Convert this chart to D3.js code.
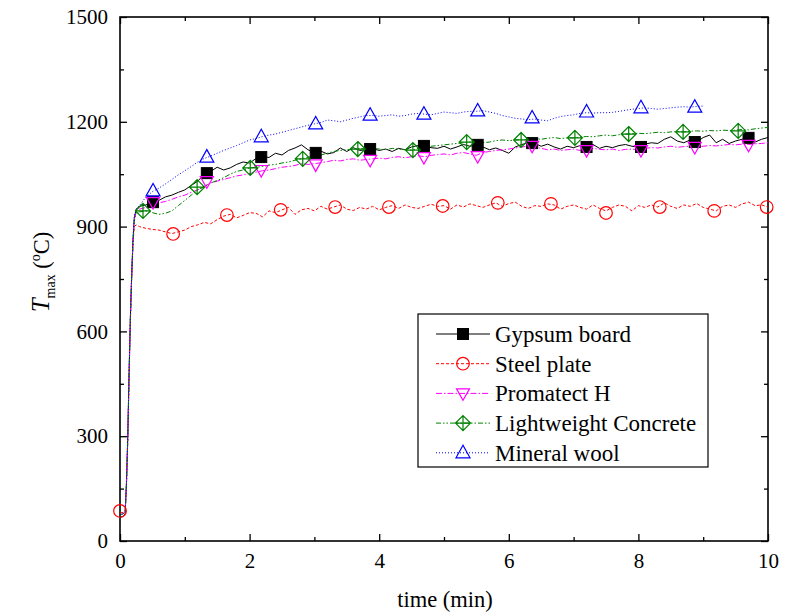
<!DOCTYPE html>
<html>
<head>
<meta charset="utf-8">
<script src="https://cdn.jsdelivr.net/npm/d3@7"></script>
<style>
html,body{margin:0;padding:0;background:#fff;}
svg{display:block;}
text{font-family:"Liberation Serif","Times New Roman",serif;fill:#000;}
</style>
</head>
<body>
<svg id="chart" width="794" height="614"></svg>
<script>
// ---------- DATA ----------
const times = [0,0.05,0.08,0.1,0.12,0.14,0.16,0.18,0.2,0.22,0.25,
  0.3,0.4,0.5,0.6,0.7,0.8,0.9,
  1.0,1.1,1.2,1.3,1.4,1.5,1.6,1.7,1.8,1.9,
  2.0,2.1,2.2,2.3,2.4,2.5,2.6,2.7,2.8,2.9,
  3.0,3.1,3.2,3.3,3.4,3.5,3.6,3.7,3.8,3.9,
  4.0,4.1,4.2,4.3,4.4,4.5,4.6,4.7,4.8,4.9,
  5.0,5.1,5.2,5.3,5.4,5.5,5.6,5.7,5.8,5.9,
  6.0,6.1,6.2,6.3,6.4,6.5,6.6,6.7,6.8,6.9,
  7.0,7.1,7.2,7.3,7.4,7.5,7.6,7.7,7.8,7.9,
  8.0,8.1,8.2,8.3,8.4,8.5,8.6,8.7,8.8,8.9,
  9.0,9.1,9.2,9.3,9.4,9.5,9.6,9.7,9.8,9.9,
  10.0];

const gypsum = [68,70,78,170,300,480,640,760,860,925,950,
  958,962,970,975,985,990,998,
  1005,1018,1030,1050,1058,1070,1062,1068,1078,1085,
  1082,1095,1100,1098,1110,1105,1118,1125,1134,1120,
  1112,1116,1108,1112,1125,1115,1126,1118,1120,1123,
  1118,1122,1115,1124,1120,1128,1132,1130,1126,1124,
  1130,1122,1128,1135,1130,1134,1128,1120,1125,1118,
  1110,1128,1135,1140,1138,1130,1136,1128,1122,1130,
  1126,1132,1128,1135,1124,1130,1126,1132,1135,1130,
  1128,1136,1140,1138,1150,1157,1145,1140,1148,1142,
  1155,1162,1140,1150,1138,1145,1150,1154,1142,1150,
  1155];

const steel = [80,82,88,160,290,470,630,750,850,900,905,
  900,895,892,890,885,880,885,
  890,900,905,912,908,920,930,935,925,932,
  940,938,928,945,940,948,955,935,948,952,
  945,958,950,956,962,950,946,955,950,958,
  948,955,960,952,962,955,952,958,964,958,
  960,950,962,956,965,960,955,962,968,958,
  966,970,958,952,960,958,965,962,950,958,
  962,955,950,962,952,945,955,962,958,945,
  960,955,962,956,968,958,952,962,958,966,
  955,950,945,958,962,955,965,970,960,962,
  956];

const promatect = [75,78,85,165,295,475,635,755,855,920,945,
  950,955,965,968,972,978,985,
  990,998,1005,1015,1025,1030,1035,1040,1045,1048,
  1052,1056,1060,1062,1066,1070,1072,1075,1080,1078,
  1080,1083,1086,1090,1088,1092,1094,1090,1092,1094,
  1096,1094,1098,1100,1097,1100,1103,1100,1104,1106,
  1108,1105,1110,1112,1108,1104,1112,1115,1118,1120,
  1122,1125,1128,1130,1128,1124,1120,1122,1118,1120,
  1122,1118,1120,1124,1121,1120,1122,1118,1121,1122,
  1120,1124,1126,1125,1128,1130,1127,1129,1130,1128,
  1130,1132,1131,1133,1135,1134,1136,1135,1137,1138,
  1140];

const concrete = [75,78,85,160,290,470,630,750,850,915,940,
  942,945,940,935,938,945,960,
  975,990,1005,1015,1025,1032,1040,1050,1058,1062,
  1068,1070,1072,1076,1078,1082,1085,1090,1094,1098,
  1102,1105,1110,1115,1118,1120,1122,1124,1122,1124,
  1122,1120,1124,1122,1120,1119,1124,1128,1130,1132,
  1134,1136,1138,1140,1142,1143,1140,1142,1146,1148,
  1146,1148,1148,1150,1152,1150,1153,1155,1152,1154,
  1154,1156,1158,1157,1160,1162,1160,1163,1165,1166,
  1167,1166,1168,1170,1169,1171,1172,1171,1173,1174,
  1173,1175,1174,1176,1175,1176,1178,1177,1180,1182,
  1184];

const mineral = [75,78,85,165,300,480,640,760,860,925,950,
  960,985,1000,1010,1022,1035,1048,
  1060,1072,1085,1095,1102,1110,1118,1125,1132,1140,
  1148,1152,1158,1162,1165,1170,1175,1180,1185,1190,
  1194,1198,1205,1203,1200,1205,1210,1214,1218,1218,
  1216,1218,1220,1216,1218,1222,1224,1222,1220,1224,
  1228,1226,1224,1228,1230,1230,1232,1228,1224,1218,
  1214,1210,1208,1206,1208,1205,1203,1210,1215,1218,
  1220,1224,1226,1225,1226,1226,1227,1230,1233,1236,
  1238,1240,1238,1236,1238,1240,1242,1243,1242,1244,
  1245];

// marker positions
const gypsumMarkT = [0.51,1.34,2.18,3.02,3.86,4.69,5.52,6.36,7.2,8.04,8.87,9.7];
const gypsumMarkV = [970,1053,1099,1111,1122,1131,1134,1139,1128,1128,1142,1154];
const steelMarkT = [0,0.82,1.65,2.48,3.32,4.15,4.98,5.83,6.65,7.5,8.33,9.17,9.98];
const steelMarkV = [86,879,933,948,956,956,959,968,965,939,956,945,956];
const promatectMarkT = [0.51,1.34,2.18,3.02,3.86,4.69,5.52,6.36,7.2,8.04,8.87,9.7];
const promatectMarkV = [970,1030,1062,1078,1091,1099,1102,1131,1119,1119,1128,1134];
const concreteMarkT = [0.355,1.19,2.01,2.82,3.67,4.52,5.35,6.19,7.02,7.85,8.69,9.54];
const concreteMarkV = [945,1013,1068,1094,1122,1119,1142,1148,1154,1165,1171,1174];
const mineralMarkT = [0.51,1.34,2.18,3.02,3.86,4.69,5.52,6.36,7.2,8.04,8.87];
const mineralMarkV = [1002,1099,1157,1194,1219,1222,1231,1211,1228,1240,1242];

const seriesNames = ["Gypsum board","Steel plate","Promatect H","Lightweight Concrete","Mineral wool"];
const xMajorTicks = [0,2,4,6,8,10];
const xMinorTicks = [1,3,5,7,9];
const yMajorTicks = [0,300,600,900,1200,1500];
const yMinorTicks = [150,450,750,1050,1350];

// ---------- STYLE ----------
const styles = [
  {color:"#000000", dash:null, marker:"square"},
  {color:"#ff0000", dash:"3,2", marker:"circle"},
  {color:"#ff00ff", dash:"6,2,1.5,2", marker:"tridown"},
  {color:"#008000", dash:"5,2,1.5,2,1.5,2", marker:"diamondcross"},
  {color:"#0000ff", dash:"1,2", marker:"triup"}
];
const seriesVals = [gypsum, steel, promatect, concrete, mineral];
const markT = [gypsumMarkT, steelMarkT, promatectMarkT, concreteMarkT, mineralMarkT];
const markV = [gypsumMarkV, steelMarkV, promatectMarkV, concreteMarkV, mineralMarkV];

const svg = d3.select("#chart");
const L=120, R=768, T=17, B=541;
const x = d3.scaleLinear().domain([0,10]).range([L,R]);
const y = d3.scaleLinear().domain([0,1500]).range([B,T]);

// axes
function styleAxis(g){
  g.select(".domain").remove();
  g.selectAll(".tick line").attr("stroke","#000").attr("stroke-width",1.3);
  g.selectAll(".tick text").attr("font-family","Liberation Serif, Times New Roman, serif").attr("font-size",21).attr("fill","#000");
}
svg.append("g").attr("transform",`translate(0,${B})`)
  .call(d3.axisBottom(x).tickValues(xMajorTicks).tickSizeInner(-7).tickSizeOuter(0).tickPadding(12).tickFormat(d3.format("d")))
  .call(styleAxis);
svg.append("g").attr("transform",`translate(0,${B})`)
  .call(d3.axisBottom(x).tickValues(xMinorTicks).tickSizeInner(-4).tickSizeOuter(0).tickFormat(""))
  .call(styleAxis);
svg.append("g").attr("transform",`translate(0,${T})`)
  .call(d3.axisTop(x).tickValues(xMajorTicks).tickSizeInner(-7).tickSizeOuter(0).tickFormat(""))
  .call(styleAxis);
svg.append("g").attr("transform",`translate(0,${T})`)
  .call(d3.axisTop(x).tickValues(xMinorTicks).tickSizeInner(-4).tickSizeOuter(0).tickFormat(""))
  .call(styleAxis);
svg.append("g").attr("transform",`translate(${L},0)`)
  .call(d3.axisLeft(y).tickValues(yMajorTicks).tickSizeInner(-7).tickSizeOuter(0).tickPadding(12).tickFormat(d3.format("d")))
  .call(styleAxis);
svg.append("g").attr("transform",`translate(${L},0)`)
  .call(d3.axisLeft(y).tickValues(yMinorTicks).tickSizeInner(-4).tickSizeOuter(0).tickFormat(""))
  .call(styleAxis);
svg.append("g").attr("transform",`translate(${R},0)`)
  .call(d3.axisRight(y).tickValues(yMajorTicks).tickSizeInner(-7).tickSizeOuter(0).tickFormat(""))
  .call(styleAxis);
svg.append("g").attr("transform",`translate(${R},0)`)
  .call(d3.axisRight(y).tickValues(yMinorTicks).tickSizeInner(-4).tickSizeOuter(0).tickFormat(""))
  .call(styleAxis);

// frame
svg.append("rect").attr("x",L).attr("y",T).attr("width",R-L).attr("height",B-T)
  .attr("fill","none").attr("stroke","#000").attr("stroke-width",1.6);

// axis titles
svg.append("text").attr("x",(L+R)/2+1).attr("y",607).attr("text-anchor","middle")
  .attr("font-size",22.5).text("time (min)");
const yt = svg.append("text").attr("transform","translate(49,272) rotate(-90)")
  .attr("text-anchor","middle").attr("font-size",22.5);
yt.append("tspan").attr("font-style","italic").attr("font-size",25).text("T");
yt.append("tspan").attr("font-size",14).attr("dy",6).text("max");
yt.append("tspan").attr("dy",-6).text(" (");
yt.append("tspan").attr("font-size",14).attr("dy",-9).text("o");
yt.append("tspan").attr("dy",9).text("C)");

// marker drawing
function drawMarker(g, type, cx, cy, color){
  if(type==="square"){
    g.append("rect").attr("x",cx-5.5).attr("y",cy-5.5).attr("width",11).attr("height",11)
      .attr("fill",color).attr("stroke",color).attr("stroke-width",1);
  } else if(type==="circle"){
    g.append("circle").attr("cx",cx).attr("cy",cy).attr("r",6.3)
      .attr("fill","none").attr("stroke",color).attr("stroke-width",1.2);
  } else if(type==="tridown"){
    g.append("path").attr("d",`M${cx-6.5},${cy-4.5}L${cx+6.5},${cy-4.5}L${cx},${cy+7}Z`)
      .attr("fill","none").attr("stroke",color).attr("stroke-width",1.2);
  } else if(type==="triup"){
    g.append("path").attr("d",`M${cx-7},${cy+5}L${cx+7},${cy+5}L${cx},${cy-7.5}Z`)
      .attr("fill","none").attr("stroke",color).attr("stroke-width",1.2);
  } else if(type==="diamondcross"){
    const r=7.5;
    g.append("path").attr("d",`M${cx},${cy-r}L${cx+r},${cy}L${cx},${cy+r}L${cx-r},${cy}Z M${cx-r},${cy}L${cx+r},${cy} M${cx},${cy-r}L${cx},${cy+r}`)
      .attr("fill","none").attr("stroke",color).attr("stroke-width",1.2);
  }
}

// clip
svg.append("clipPath").attr("id","clip").append("rect")
  .attr("x",L).attr("y",T).attr("width",R-L).attr("height",B-T);

const plot = svg.append("g").attr("clip-path","url(#clip)");
const line = d3.line().x(d=>x(d[0])).y(d=>y(d[1]));

seriesVals.forEach((vals,i)=>{
  const st = styles[i];
  const pts = vals.map((v,j)=>[times[j],v]);
  const p = plot.append("path").datum(pts).attr("d",line)
    .attr("fill","none").attr("stroke",st.color).attr("stroke-width",1);
  if(st.dash) p.attr("stroke-dasharray",st.dash);
});
const mg = svg.append("g");
seriesVals.forEach((vals,i)=>{
  const st = styles[i];
  markT[i].forEach((t,j)=>drawMarker(mg, st.marker, x(t), y(markV[i][j]), st.color));
});

// legend
const lg = svg.append("g");
lg.append("rect").attr("x",418).attr("y",314).attr("width",290).attr("height",153)
  .attr("fill","#fff").attr("stroke","#000").attr("stroke-width",1.2);
seriesNames.forEach((name,i)=>{
  const st = styles[i];
  const yy = 334 + i*29.7;
  const l = lg.append("line").attr("x1",436).attr("x2",490).attr("y1",yy).attr("y2",yy)
    .attr("stroke",st.color).attr("stroke-width",1);
  if(st.dash) l.attr("stroke-dasharray",st.dash);
  drawMarker(lg, st.marker, 463, yy, st.color);
  lg.append("text").attr("x",495).attr("y",yy).attr("dy","0.35em").attr("font-size",23).text(name);
});
</script>
</body>
</html>
